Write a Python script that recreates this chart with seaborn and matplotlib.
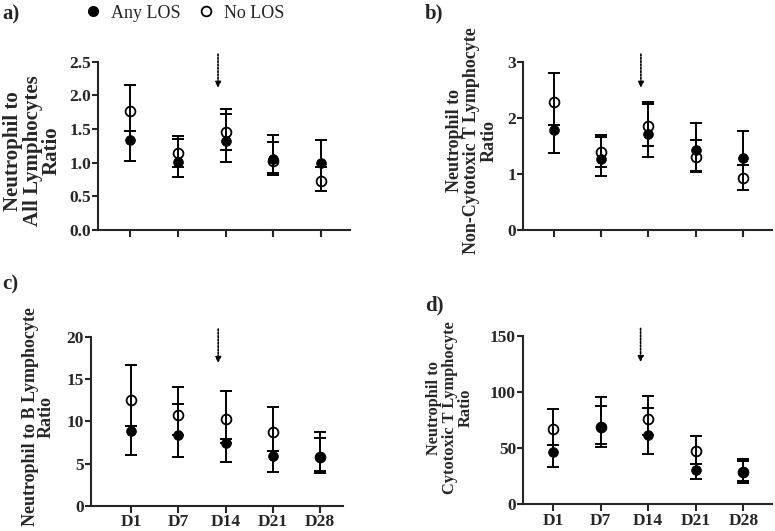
import numpy as np
import matplotlib
matplotlib.use("Agg")
import matplotlib.pyplot as plt
from matplotlib.lines import Line2D
from matplotlib.ticker import FormatStrFormatter
import seaborn as sns

# time points
days = ["D1", "D7", "D14", "D21", "D28"]

# a) neutrophil / all lymphocytes
a_any = [1.34, 1.01, 1.32, 1.05, 0.99]
a_any_lo = [1.03, 0.79, 1.01, 0.82, 0.93]
a_any_hi = [1.47, 1.35, 1.73, 1.41, 1.33]
a_no = [1.77, 1.15, 1.46, 1.02, 0.73]
a_no_lo = [1.47, 0.94, 1.19, 0.85, 0.58]
a_no_hi = [2.15, 1.40, 1.80, 1.30, 0.93]

# b) neutrophil / non-cytotoxic T
b_any = [1.79, 1.26, 1.71, 1.42, 1.29]
b_any_lo = [1.38, 0.96, 1.30, 1.04, 1.16]
b_any_hi = [1.88, 1.65, 2.25, 1.91, 1.76]
b_no = [2.28, 1.39, 1.85, 1.30, 0.92]
b_no_lo = [1.88, 1.13, 1.50, 1.06, 0.72]
b_no_hi = [2.79, 1.69, 2.28, 1.61, 1.16]

# c) neutrophil / B lymphocyte
c_any = [8.9, 8.4, 7.5, 5.95, 5.8]
c_any_lo = [6.0, 5.8, 5.2, 4.05, 4.1]
c_any_hi = [9.4, 12.0, 7.9, 6.5, 8.0]
c_no = [12.5, 10.7, 10.3, 8.7, 5.8]
c_no_lo = [9.4, 8.4, 7.5, 6.5, 3.9]
c_no_hi = [16.6, 14.1, 13.6, 11.7, 8.7]

# d) neutrophil / cytotoxic T
d_any = [46.3, 68.6, 61.8, 30.6, 28.8]
d_any_lo = [33.5, 50.8, 44.8, 22.5, 19.3]
d_any_hi = [52.9, 87.9, 85.5, 35.9, 38.6]
d_no = [66.8, 69.0, 75.7, 47.5, 28.5]
d_no_lo = [52.9, 53.7, 61.8, 35.9, 21.0]
d_no_hi = [84.9, 95.9, 96.5, 61.2, 40.1]

sns.set_style("ticks")
plt.rcParams['font.family'] = ['Liberation Serif', 'DejaVu Serif']
plt.rcParams['font.weight'] = 'bold'

fig = plt.figure(figsize=(7.75, 5.31), dpi=100)

W, H = 775.0, 531.0
def make_ax(left, right, top, bottom):
    return fig.add_axes([left / W, 1 - bottom / H, (right - left) / W, (bottom - top) / H])

ax_a = make_ax(98, 350, 61.7, 230)
ax_b = make_ax(523, 772, 61.7, 230)
ax_c = make_ax(91, 343, 336.7, 506)
ax_d = make_ax(523, 772, 336, 504.3)

# ax, series..., ymax, ystep, tick format, xlim, ylabel, label size, line spacing, label coords, show x labels
panels = [
    (ax_a, a_any, a_any_lo, a_any_hi, a_no, a_no_lo, a_no_hi, 2.5, 0.5, "%.1f", (-0.67, 4.6),
     "Neutrophil to\nAll Lymphocytes\nRatio", 15, 0.95, (-0.143, 0.47), False),
    (ax_b, b_any, b_any_lo, b_any_hi, b_no, b_no_lo, b_no_hi, 3, 1, "%d", (-0.66, 4.62),
     "Neutrophil to\nNon-Cytotoxic T Lymphocyte\nRatio", 13, 1.05, (-0.10, 0.53), False),
    (ax_c, c_any, c_any_lo, c_any_hi, c_no, c_no_lo, c_no_hi, 20, 5, "%d", (-0.85, 4.48),
     "Neutrophil to B Lymphocyte\nRatio", 13, 0.95, (-0.143, 0.526), True),
    (ax_d, d_any, d_any_lo, d_any_hi, d_no, d_no_lo, d_no_hi, 150, 50, "%d", (-0.63, 4.6),
     "Neutrophil to\nCytotoxic T Lymphocyte\nRatio", 11.8, 1.0, (-0.197, 0.575), True),
]

x = np.arange(len(days))

for (ax, any_m, any_lo, any_hi, no_m, no_lo, no_hi, ymax, ystep, fmt, xlim,
     ylabel, lsize, lspace, lcoords, show_x) in panels:
    any_m = np.array(any_m); no_m = np.array(no_m)
    # open circles (No LOS), filled circles (Any LOS)
    sns.scatterplot(x=x, y=no_m, ax=ax, marker='o', color='white', edgecolor='black',
                    linewidth=1.3, s=50, zorder=2, legend=False)
    sns.scatterplot(x=x, y=any_m, ax=ax, marker='o', color='black', edgecolor='black',
                    linewidth=0.5, s=50, zorder=2.5, legend=False)
    ax.errorbar(x, no_m, yerr=[no_m - np.array(no_lo), np.array(no_hi) - no_m], fmt='none',
                ecolor='black', elinewidth=1.4, capsize=4.3, capthick=1.4, zorder=3)
    ax.errorbar(x, any_m, yerr=[any_m - np.array(any_lo), np.array(any_hi) - any_m], fmt='none',
                ecolor='black', elinewidth=1.4, capsize=4.3, capthick=1.4, zorder=3)

    ax.set_ylim(0, ymax)
    ax.set_yticks(np.arange(0, ymax + ystep / 2, ystep))
    ax.yaxis.set_major_formatter(FormatStrFormatter(fmt))
    ax.set_xlim(*xlim)
    ax.set_xticks(x)
    if show_x:
        ax.set_xticklabels(days)
    else:
        ax.set_xticklabels([])
    sns.despine(ax=ax)
    for s in ['left', 'bottom']:
        ax.spines[s].set_linewidth(1.5)
    ax.tick_params(axis='y', direction='out', length=4, width=1.5, labelsize=12.5, pad=1)
    ax.tick_params(axis='x', direction='out', length=5, width=1.5, labelsize=12.5, pad=1)
    for lab in ax.get_xticklabels() + ax.get_yticklabels():
        lab.set_fontweight('bold')
    ax.set_ylabel(ylabel, fontsize=lsize, fontweight='bold', linespacing=lspace)
    ax.yaxis.set_label_coords(*lcoords)
    ax.set_xlabel("")

    # dotted arrow above D14
    ax.annotate('', xy=(1.84, ymax * 0.845), xytext=(1.84, ymax * 1.045),
                xycoords='data', annotation_clip=False,
                arrowprops=dict(arrowstyle='-|>', linestyle=(0, (1, 1.0)), color='black',
                                lw=1.2, mutation_scale=8, shrinkA=0, shrinkB=0))

# panel tags
fig.text(2 / W, 1 - 14 / H, "a)", fontsize=15, fontweight='bold', va='center', ha='left')
fig.text(425 / W, 1 - 13 / H, "b)", fontsize=15, fontweight='bold', va='center', ha='left')
fig.text(2 / W, 1 - 284 / H, "c)", fontsize=15, fontweight='bold', va='center', ha='left')
fig.text(425 / W, 1 - 305 / H, "d)", fontsize=15, fontweight='bold', va='center', ha='left')

handles = [
    Line2D([], [], marker='o', linestyle='none', markerfacecolor='black', markeredgecolor='black', markersize=7),
    Line2D([], [], marker='o', linestyle='none', markerfacecolor='white', markeredgecolor='black',
           markeredgewidth=1.3, markersize=7),
]
fig.legend(handles, ["Any LOS", "No LOS"], loc='center', bbox_to_anchor=(184 / W, 1 - 13 / H),
           ncol=2, frameon=False, prop={'family': 'Liberation Serif', 'size': 13, 'weight': 'normal'},
           handletextpad=0.5, columnspacing=0.9, handlelength=1.0)

fig.savefig("out.png", dpi=100)
